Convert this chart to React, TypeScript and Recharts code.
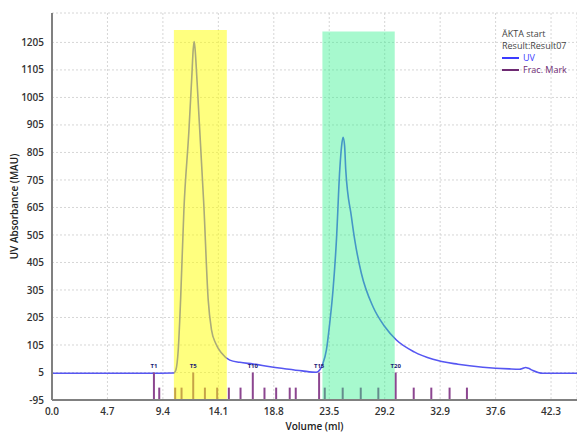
import {
  LineChart,
  Line,
  XAxis,
  YAxis,
  CartesianGrid,
  ReferenceArea,
  ReferenceLine,
  Legend,
} from "recharts";

// UV trace (volume ml, absorbance mAU)
const volume = [
  0, 8.0, 10.3, 10.36, 10.5, 10.7, 10.9, 11.18, 11.6, 11.85, 11.97, 12.05, 12.13, 12.3,
  12.87, 13.24, 13.52, 13.86, 14.37, 15.07, 15.92, 17.05, 18.5, 19.87, 21.2, 22.4,
  22.55, 22.75, 22.97, 23.26, 23.54, 23.82, 24.11, 24.39, 24.55, 24.67, 24.8, 24.9,
  25.38, 25.66, 26.22, 27.21, 28.2, 29.19, 30.7, 32.29, 34.41, 36.52, 38.78, 39.63,
  39.9, 40.14, 40.4, 40.76, 41.2, 41.6, 44.5,
];
const uv = [
  2, 2, 3, 4, 14, 87, 269, 596, 880, 1080, 1180, 1208, 1180, 1060,
  614, 269, 160, 112, 76, 50, 42, 36, 26, 18, 11, 6,
  8, 18, 38, 87, 184, 305, 487, 741, 830, 860, 830, 741,
  571, 487, 366, 244, 172, 123, 80, 53, 35, 24, 18, 17,
  20, 23, 20, 12, 5, 2, 2,
];

// fraction marks T1..T24
const fracVolumes = [
  8.64, 9.09, 10.44, 10.98, 11.97, 12.96, 14.0, 14.99, 15.98, 17.02, 18.01, 19.0,
  20.15, 20.66, 22.64, 23.12, 24.64, 26.17, 27.66, 29.13, 30.66, 32.15, 33.7, 35.17,
];
const fracLabels = [
  "T1", "", "", "", "T5", "", "", "", "", "T10", "", "",
  "", "", "T15", "", "", "", "", "T20", "", "", "", "",
];

// pooled regions
const poolStart = [10.33, 22.92];
const poolEnd = [14.82, 29.05];
const poolTop = [1250, 1245];

const xTicks = [0, 4.7, 9.4, 14.1, 18.8, 23.5, 28.2, 32.9, 37.6, 42.3];
const xTickLabels = ["0.0", "4.7", "9.4", "14.1", "18.8", "23.5", "29.2", "32.9", "37.6", "42.3"];
const yTicks = [-95, 5, 105, 205, 305, 405, 505, 605, 705, 805, 905, 1005, 1105, 1205];

const legendTitle = ["ÄKTA  start", "Result:Result07"];
const legendItems = [
  { name: "UV", color: "#3c3cff" },
  { name: "Frac.  Mark", color: "#6e2a72" },
];

const data = volume.map((v, i) => ({ ml: v, uv: uv[i] }));

const font = "'Open Sans', 'Liberation Sans', sans-serif";
const poolColors = ["#ffff00", "#2ef08a"];
const poolOpacity = [0.5, 0.42];

function LegendBox() {
  return (
    <div style={{ fontFamily: font, fontSize: 9, color: "#444", lineHeight: "12px", textAlign: "left" }}>
      {legendTitle.map((t) => (
        <div key={t} style={{ whiteSpace: "nowrap" }}>{t}</div>
      ))}
      {legendItems.map((it) => (
        <div key={it.name} style={{ display: "flex", alignItems: "center", color: it.color, whiteSpace: "nowrap" }}>
          <span style={{ display: "inline-block", width: 17, height: 2, background: it.color, marginRight: 4 }} />
          {it.name}
        </div>
      ))}
    </div>
  );
}

export default function App() {
  return (
    <div style={{ position: "absolute", left: 0, top: 0, background: "#fff" }}>
      <LineChart
        width={577}
        height={433}
        data={data}
        margin={{ top: 13, right: 0, bottom: 0, left: 0 }}
        style={{ fontFamily: font }}
      >
        <CartesianGrid stroke="#d6d6d6" strokeDasharray="2 2" />
        <XAxis
          dataKey="ml"
          type="number"
          domain={[0, 44.5]}
          ticks={xTicks}
          tickFormatter={(v: number) => xTickLabels[xTicks.indexOf(v)] ?? String(v)}
          tickLine={false}
          height={33}
          axisLine={{ stroke: "#808080", strokeWidth: 2 }}
          tick={{ fontSize: 10, fill: "#333", fontWeight: 600 }}
          label={{ value: "Volume (ml)", position: "insideBottom", offset: 3, fontSize: 10, fill: "#222", fontWeight: 600 }}
        />
        <YAxis
          type="number"
          domain={[-95, 1312]}
          ticks={yTicks}
          width={52}
          tickLine={false}
          axisLine={{ stroke: "#808080", strokeWidth: 2 }}
          tick={{ fontSize: 10, fill: "#333", fontWeight: 600 }}
          label={{
            value: "UV Absorbance (MAU)",
            angle: -90,
            position: "insideLeft",
            offset: 14,
            fontSize: 10,
            fill: "#222",
            fontWeight: 600,
            style: { textAnchor: "middle" },
          }}
        />
        <Legend
          layout="vertical"
          align="center"
          verticalAlign="middle"
          wrapperStyle={{ top: 28, left: 502, width: 75 }}
          content={() => <LegendBox />}
        />
        <Line
          type="monotone"
          dataKey="uv"
          stroke="#5656f2"
          strokeWidth={1.6}
          dot={false}
          activeDot={false}
          isAnimationActive={false}
        />
        {fracVolumes.map((v, i) => (
          <ReferenceLine
            key={"f" + i}
            segment={[
              { x: v, y: -95 },
              { x: v, y: fracLabels[i] ? 5 : -50 },
            ]}
            stroke="#8c4690"
            strokeWidth={2}
            label={
              fracLabels[i]
                ? { value: fracLabels[i], position: "top", offset: 4, fontSize: 6, fontWeight: 700, fill: "#1c1c72" }
                : undefined
            }
          />
        ))}
        {poolStart.map((s, i) => (
          <ReferenceArea
            key={"p" + i}
            x1={s}
            x2={poolEnd[i]}
            y1={-95}
            y2={poolTop[i]}
            fill={poolColors[i]}
            fillOpacity={poolOpacity[i]}
            stroke="none"
            zIndex={450}
          />
        ))}
      </LineChart>
    </div>
  );
}
